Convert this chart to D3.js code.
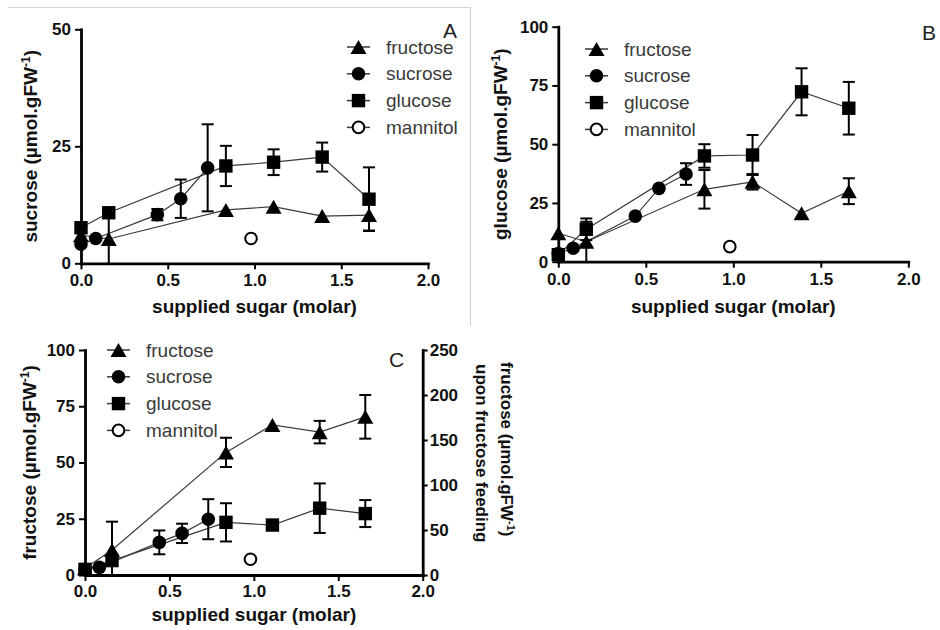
<!DOCTYPE html>
<html>
<head>
<meta charset="utf-8">
<script src="https://cdn.jsdelivr.net/npm/d3@7"></script>
<style>
  body { margin: 0; background: #fff; }
  svg { display: block; }
  text { font-family: "Liberation Sans", Arial, sans-serif; }
</style>
</head>
<body>
<svg id="fig" width="940" height="630"></svg>
<script>
// Supplied sugar concentration (molar) for each feeding treatment
const molarFructoseFed = [0, 0.16, 0.835, 1.11, 1.39, 1.66];
const molarSucroseFed  = [0, 0.085, 0.44, 0.575, 0.73];
const molarGlucoseFed  = [0, 0.16, 0.835, 1.11, 1.39, 1.66];
const molarMannitolFed = [0.98];

const seriesNames = ["fructose", "sucrose", "glucose", "mannitol"];

// Panel A: sucrose content (µmol/gFW), mean and SE
const sucFructoseFed    = [6.0, 5.2, 11.4, 12.1, 10.1, 10.3];
const sucFructoseFedErr = [0, 5.5, 0, 0, 0, 3.3];
const sucSucroseFed     = [4.1, 5.3, 10.4, 13.8, 20.4];
const sucSucroseFedErr  = [0, 0, 1.2, 4.1, 9.3];
const sucGlucoseFed     = [7.6, 10.8, 20.8, 21.6, 22.7, 13.7];
const sucGlucoseFedErr  = [0, 0, 4.3, 2.75, 3.1, 6.8];
const sucMannitolFed    = [5.3];

// Panel B: glucose content (µmol/gFW)
const gluFructoseFed    = [12.1, 8.5, 30.8, 34.0, 20.6, 30.0];
const gluFructoseFedErr = [0, 8.5, 8.2, 3.3, 0, 5.5];
const gluSucroseFed     = [3.5, 5.7, 19.4, 31.2, 37.3];
const gluSucroseFedErr  = [0, 0, 0, 0, 4.6];
const gluGlucoseFed     = [3.0, 13.8, 45.0, 45.4, 72.3, 65.3];
const gluGlucoseFedErr  = [0, 4.6, 5.0, 8.5, 10.0, 11.2];
const gluMannitolFed    = [6.4];

// Panel C: fructose content (µmol/gFW)
const fruFructoseFed    = [3.0, 11.1, 54.5, 66.7, 63.5, 70.3];
const fruFructoseFedErr = [0, 12.6, 6.5, 0, 5.0, 9.7];
const fruSucroseFed     = [2.5, 3.4, 14.5, 18.5, 24.8];
const fruSucroseFedErr  = [0, 0, 5.3, 4.3, 8.9];
const fruGlucoseFed     = [2.5, 6.4, 23.4, 22.2, 29.7, 27.3];
const fruGlucoseFedErr  = [0, 0, 8.5, 0, 11.0, 6.0];
const fruMannitolFed    = [7.0];

// Axis ticks
const xTicks = [0, 0.5, 1.0, 1.5, 2.0];
const yTicksA = [0, 25, 50];
const yTicksBC = [0, 25, 50, 75, 100];
const yTicksCRight = [0, 50, 100, 150, 200, 250];

const svg = d3.select("#fig");

// light frame around the first panel
svg.append("path")
  .attr("d", "M8,7.5 H470.5 V326")
  .attr("fill", "none").attr("stroke", "#d4d4d4").attr("stroke-width", 1.2);

function zipSeries(xs, ys, es) {
  return xs.map((x, i) => ({ x, y: ys[i], e: es ? es[i] : 0 }));
}

function symbolPath(kind, cx, cy) {
  if (kind === "triangle") {
    const w = 16, h = 14;
    return `M${cx},${cy - h / 2}L${cx + w / 2},${cy + h / 2}L${cx - w / 2},${cy + h / 2}Z`;
  }
  if (kind === "square") {
    const s = 13.4;
    return `M${cx - s / 2},${cy - s / 2}h${s}v${s}h${-s}Z`;
  }
  return null;
}

function drawSymbol(g, kind, cx, cy) {
  if (kind === "circle") {
    g.append("circle").attr("cx", cx).attr("cy", cy).attr("r", 6.8).attr("fill", "#000");
  } else if (kind === "open") {
    g.append("circle").attr("cx", cx).attr("cy", cy).attr("r", 5.8)
      .attr("fill", "#fff").attr("stroke", "#000").attr("stroke-width", 2);
  } else {
    g.append("path").attr("d", symbolPath(kind, cx, cy)).attr("fill", "#000");
  }
}

function styleAxis(g, fontSize) {
  g.select(".domain").attr("stroke", "#000").attr("stroke-width", 2.8).attr("stroke-linecap", "square");
  g.selectAll(".tick line").attr("stroke", "#000").attr("stroke-width", 2);
  g.selectAll(".tick text")
    .attr("fill", "#111").attr("font-size", fontSize).attr("font-weight", "bold");
}

function drawPanel(p) {
  const g = svg.append("g");
  const x = d3.scaleLinear().domain([0, 2]).range([p.left, p.right]);
  const y = d3.scaleLinear().domain([0, p.yMax]).range([p.bottom, p.top]);

  // connecting lines
  const line = d3.line().x(d => x(d.x)).y(d => y(d.y));
  p.series.forEach(s => {
    if (s.data.length > 1) {
      g.append("path").datum(s.data).attr("d", line)
        .attr("fill", "none").attr("stroke", "#3a3a3a").attr("stroke-width", 1.2);
    }
  });

  // error bars
  const cap = 6;
  p.series.forEach(s => {
    s.data.filter(d => d.e > 0).forEach(d => {
      const cx = x(d.x);
      const lo = Math.max(0, d.y - d.e), hi = d.y + d.e;
      g.append("line").attr("x1", cx).attr("x2", cx).attr("y1", y(lo)).attr("y2", y(hi))
        .attr("stroke", "#000").attr("stroke-width", 2);
      g.append("line").attr("x1", cx - cap).attr("x2", cx + cap).attr("y1", y(hi)).attr("y2", y(hi))
        .attr("stroke", "#000").attr("stroke-width", 2);
      if (lo > 0) {
        g.append("line").attr("x1", cx - cap).attr("x2", cx + cap).attr("y1", y(lo)).attr("y2", y(lo))
          .attr("stroke", "#000").attr("stroke-width", 2);
      }
    });
  });

  // markers
  p.series.forEach(s => {
    s.data.forEach(d => drawSymbol(g, s.symbol, x(d.x), y(d.y)));
  });

  // axes
  const gx = g.append("g").attr("transform", `translate(0,${p.bottom})`)
    .call(d3.axisBottom(x).tickValues(xTicks).tickFormat(d3.format(".1f"))
      .tickSize(6).tickSizeOuter(0).tickPadding(p.xPad));
  styleAxis(gx, 17);
  const gy = g.append("g").attr("transform", `translate(${p.left},0)`)
    .call(d3.axisLeft(y).tickValues(p.yTicks).tickFormat(d3.format("d"))
      .tickSize(6).tickSizeOuter(0).tickPadding(4));
  styleAxis(gy, 17);

  if (p.rightMax) {
    const y2 = d3.scaleLinear().domain([0, p.rightMax]).range([p.bottom, p.top]);
    const gr = g.append("g").attr("transform", `translate(${p.right},0)`)
      .call(d3.axisRight(y2).tickValues(yTicksCRight).tickFormat(d3.format("d"))
        .tickSize(5).tickSizeOuter(0).tickPadding(2));
    styleAxis(gr, 17);
  }

  // axis titles
  g.append("text")
    .attr("x", (p.left + p.right) / 2).attr("y", p.bottom + p.xTitleGap)
    .attr("text-anchor", "middle").attr("font-size", 19).attr("font-weight", "bold").attr("fill", "#111")
    .text("supplied sugar (molar)");

  const yt = g.append("text")
    .attr("transform", `translate(${p.titleX},${(p.top + p.bottom) / 2}) rotate(-90)`)
    .attr("text-anchor", "middle").attr("font-size", 19).attr("font-weight", "bold").attr("fill", "#111");
  yt.append("tspan").text(p.yName + " (µmol.gFW");
  yt.append("tspan").attr("dy", -7).attr("font-size", 12).text("-1");
  yt.append("tspan").attr("dy", 7).text(")");

  if (p.rightMax) {
    const rt1 = g.append("text")
      .attr("transform", `translate(${p.right + 78},${p.top + 12}) rotate(90)`)
      .attr("font-size", 17).attr("font-weight", "bold").attr("fill", "#111");
    rt1.append("tspan").text("fructose (µmol.gFW");
    rt1.append("tspan").attr("dy", -6).attr("font-size", 11).text("-1");
    rt1.append("tspan").attr("dy", 6).text(")");
    g.append("text")
      .attr("transform", `translate(${p.right + 53},${p.top + 14}) rotate(90)`)
      .attr("font-size", 17).attr("font-weight", "bold").attr("fill", "#111")
      .text("upon fructose feeding");
  }

  // panel letter
  g.append("text").attr("x", p.letterX).attr("y", p.letterY)
    .attr("font-size", 21).attr("fill", "#222").text(p.letter);

  // legend
  const symbols = ["triangle", "circle", "square", "open"];
  seriesNames.forEach((name, i) => {
    const ry = p.legendY + i * 26.8;
    const lx = p.legendX;
    g.append("line").attr("x1", lx).attr("x2", lx + 23).attr("y1", ry).attr("y2", ry)
      .attr("stroke", "#3a3a3a").attr("stroke-width", 1.5);
    drawSymbol(g, symbols[i], lx + 11.5, ry);
    g.append("text").attr("x", lx + 39).attr("y", ry + 6.5)
      .attr("font-size", 19).attr("fill", "#3a3a3a").text(name);
  });
}

drawPanel({
  left: 81, right: 428, top: 29.3, bottom: 263.3, yMax: 50, yTicks: yTicksA,
  xPad: 5, xTitleGap: 50,
  yName: "sucrose", titleX: 37, letter: "A", letterX: 443, letterY: 38,
  legendX: 347, legendY: 47,
  series: [
    { symbol: "triangle", data: zipSeries(molarFructoseFed, sucFructoseFed, sucFructoseFedErr) },
    { symbol: "circle",   data: zipSeries(molarSucroseFed, sucSucroseFed, sucSucroseFedErr) },
    { symbol: "square",   data: zipSeries(molarGlucoseFed, sucGlucoseFed, sucGlucoseFedErr) },
    { symbol: "open",     data: zipSeries(molarMannitolFed, sucMannitolFed) }
  ]
});

drawPanel({
  left: 558.3, right: 908.3, top: 26.7, bottom: 261.7, yMax: 100, yTicks: yTicksBC,
  xPad: 5, xTitleGap: 51,
  yName: "glucose", titleX: 507, letter: "B", letterX: 922, letterY: 40,
  legendX: 585, legendY: 49,
  series: [
    { symbol: "triangle", data: zipSeries(molarFructoseFed, gluFructoseFed, gluFructoseFedErr) },
    { symbol: "circle",   data: zipSeries(molarSucroseFed, gluSucroseFed, gluSucroseFedErr) },
    { symbol: "square",   data: zipSeries(molarGlucoseFed, gluGlucoseFed, gluGlucoseFedErr) },
    { symbol: "open",     data: zipSeries(molarMannitolFed, gluMannitolFed) }
  ]
});

drawPanel({
  left: 85, right: 422.7, top: 350, bottom: 575, yMax: 100, yTicks: yTicksBC, rightMax: 250,
  xPad: 4, xTitleGap: 46,
  yName: "fructose", titleX: 36, letter: "C", letterX: 389, letterY: 367,
  legendX: 107, legendY: 350,
  series: [
    { symbol: "triangle", data: zipSeries(molarFructoseFed, fruFructoseFed, fruFructoseFedErr) },
    { symbol: "circle",   data: zipSeries(molarSucroseFed, fruSucroseFed, fruSucroseFedErr) },
    { symbol: "square",   data: zipSeries(molarGlucoseFed, fruGlucoseFed, fruGlucoseFedErr) },
    { symbol: "open",     data: zipSeries(molarMannitolFed, fruMannitolFed) }
  ]
});
</script>
</body>
</html>
